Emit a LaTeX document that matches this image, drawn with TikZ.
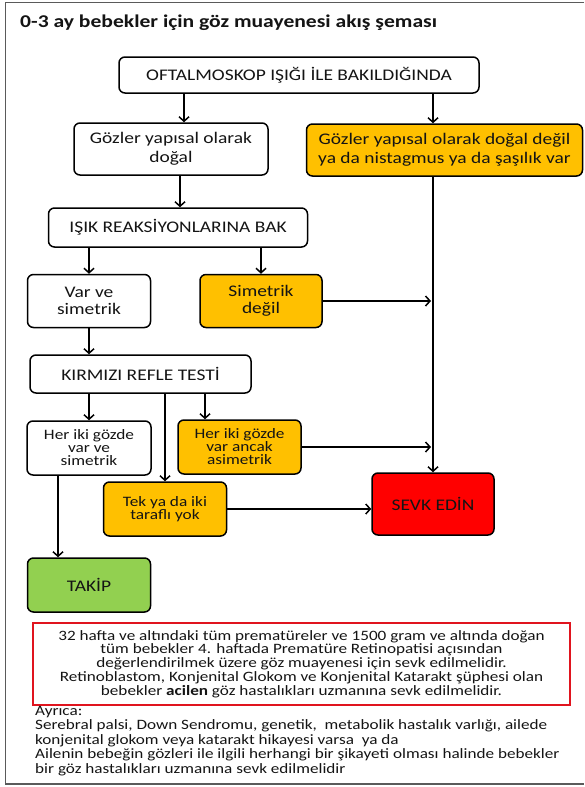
\documentclass[tikz,border=0pt]{standalone}
\usepackage{fontspec}
\setmainfont{Carlito}[FakeStretch=1.2]
\usetikzlibrary{arrows.meta}
\definecolor{orangeC}{HTML}{FFC000}
\definecolor{redC}{HTML}{FF0000}
\definecolor{greenC}{HTML}{92D050}
\definecolor{txtC}{HTML}{141414}
\definecolor{frameC}{HTML}{5A5A5A}
\definecolor{noteC}{HTML}{E0141E}
\tikzset{
  box/.style={draw=black, line width=1.5pt, rounded corners=6pt, align=center,
    inner sep=1pt, text=txtC, font=\fontsize{16.2}{19.5}\selectfont},
  wbox/.style={box, fill=white},
  obox/.style={box, fill=orangeC},
  rbox/.style={box, fill=redC},
  gbox/.style={box, fill=greenC},
  tight/.style={font=\fontsize{14.4}{13}\selectfont},
  mid/.style={font=\fontsize{16.2}{17}\selectfont},
  arr/.style={line width=1.5pt, -{Straight Barb[length=4.5pt,width=10pt,line width=1.5pt]}},
}
\begin{document}
\begin{tikzpicture}[x=1pt,y=-1pt]
\useasboundingbox (0,0) rectangle (584,787);
\draw[frameC, line width=1.2pt] (584,2.5) -- (5.5,2.5) -- (5.5,784) -- (584,784);

\node[anchor=north west, inner sep=0pt, text=txtC, font=\fontsize{18}{21}\selectfont\bfseries] (title) at (20,15) {0-3 ay bebekler için göz muayenesi akış şeması};

\node[wbox, minimum width=360, minimum height=36] (b1) at (299,75) {OFTALMOSKOP IŞIĞI İLE BAKILDIĞINDA};
\node[wbox, minimum width=194, minimum height=52] (b2) at (171,149) {Gözler yapısal olarak\\doğal};
\node[obox, minimum width=276, minimum height=52] (b3) at (444.5,150) {Gözler yapısal olarak doğal değil\\ya da nistagmus ya da şaşılık var};
\node[wbox, minimum width=259, minimum height=39] (b4) at (178,227.5) {IŞIK REAKSİYONLARINA BAK};
\node[wbox, mid, minimum width=123, minimum height=53] (b5) at (89,301) {Var ve\\simetrik};
\node[obox, mid, minimum width=122, minimum height=53] (b6) at (261,301) {Simetrik\\değil};
\node[wbox, minimum width=221, minimum height=38] (b7) at (140.5,374) {KIRMIZI REFLE TESTİ};
\node[wbox, tight, minimum width=124, minimum height=54] (b8) at (89,448) {Her iki gözde\\var ve\\simetrik};
\node[obox, tight, minimum width=123, minimum height=54] (b9) at (239.5,447) {Her iki gözde\\var ancak\\asimetrik};
\node[obox, tight, minimum width=123, minimum height=54] (b10) at (165,509) {Tek ya da iki\\taraflı yok};
\node[rbox, minimum width=122, minimum height=62] (sevk) at (433,504) {SEVK EDİN};
\node[gbox, minimum width=123, minimum height=54] (takip) at (89,585) {TAKİP};

\node[draw=noteC, line width=1.5pt, minimum width=537, minimum height=82, align=center, inner sep=0pt,
  text=txtC, font=\fontsize{14.3}{13.8}\selectfont] (note) at (301.5,664)
  {32 hafta ve altındaki tüm prematüreler ve 1500 gram ve altında doğan\\
   tüm bebekler 4. haftada Prematüre Retinopatisi açısından\\
   değerlendirilmek üzere göz muayenesi için sevk edilmelidir.\\
   Retinoblastom, Konjenital Glokom ve Konjenital Katarakt şüphesi olan\\
   bebekler \textbf{acilen} göz hastalıkları uzmanına sevk edilmelidir.};

\node[anchor=north west, inner sep=0pt, align=left, text=txtC, font=\fontsize{14.3}{14.5}\selectfont] (ayrica) at (35,706)
  {Ayrıca:\\
   Serebral palsi, Down Sendromu, genetik,\ \ metabolik hastalık varlığı, ailede\\
   konjenital glokom veya katarakt hikayesi varsa\ \ ya da\\
   Ailenin bebeğin gözleri ile ilgili herhangi bir şikayeti olması halinde bebekler\\
   bir göz hastalıkları uzmanına sevk edilmelidir};

\coordinate (xa) at (184,0);
\coordinate (xb) at (180,0);
\coordinate (xc) at (205,0);
\coordinate (xd) at (58,0);

\draw[arr] (b1.south -| xa) -- (b2.north -| xa);
\draw[arr] (b1.south -| sevk) -- (b3.north -| sevk);
\draw[arr] (b2.south -| xb) -- (b4.north -| xb);
\draw[arr] (b4.south -| b5) -- (b5.north);
\draw[arr] (b4.south -| b6) -- (b6.north);
\draw[arr, shorten >=2pt] (b6.east) -- (b6.east -| sevk);
\draw[arr] (b3.south -| sevk) -- (sevk.north);
\draw[arr] (b5.south) -- (b7.north -| b5);
\draw[arr] (b7.south -| b8) -- (b8.north);
\draw[arr] (b7.south -| b10) -- (b10.north);
\draw[arr] (b7.south -| xc) -- (b9.north -| xc);
\draw[arr, shorten >=2pt] (b9.east) -- (b9.east -| sevk);
\draw[arr] (b10.east) -- (b10.east -| sevk.west);
\draw[arr] (b8.south -| xd) -- (takip.north -| xd);
\end{tikzpicture}
\end{document}
